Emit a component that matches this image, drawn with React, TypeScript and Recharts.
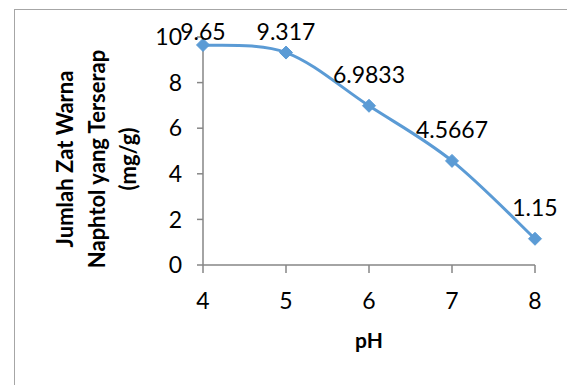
import { Customized, LabelList, Line, LineChart, XAxis, YAxis } from "recharts";

const phValues = [4, 5, 6, 7, 8];
const absorbed = [9.65, 9.317, 6.9833, 4.5667, 1.15];
const labelText = ["9.65", "9.317", "6.9833", "4.5667", "1.15"];
const yTicks = [0, 2, 4, 6, 8, 10];
const yTitle = ["Jumlah Zat Warna", "Naphtol yang Terserap", "(mg/g)"];
const xTitle = "pH";

const data = phValues.map((ph, i) => ({ ph, value: absorbed[i], label: labelText[i] }));

const FONT = "Lato, 'Open Sans', sans-serif";
const BLUE = "#5B9BD5";
const AXIS = "#868686";

// excel style smoothed line (catmull-rom like bezier)
function excelSmooth(context: any) {
  let pts: [number, number][] = [];
  return {
    areaStart() {},
    areaEnd() {},
    lineStart() {
      pts = [];
    },
    point(x: number, y: number) {
      pts.push([+x, +y]);
    },
    lineEnd() {
      if (!pts.length) return;
      context.moveTo(pts[0][0], pts[0][1]);
      for (let i = 0; i < pts.length - 1; i++) {
        const p0 = pts[Math.max(i - 1, 0)];
        const p1 = pts[i];
        const p2 = pts[i + 1];
        const p3 = pts[Math.min(i + 2, pts.length - 1)];
        context.bezierCurveTo(
          p1[0] + (p2[0] - p0[0]) / 6,
          p1[1] + (p2[1] - p0[1]) / 6,
          p2[0] - (p3[0] - p1[0]) / 6,
          p2[1] - (p3[1] - p1[1]) / 6,
          p2[0],
          p2[1]
        );
      }
    },
  };
}

function Diamond(props: any) {
  const { cx, cy } = props;
  if (cx == null || cy == null) return null;
  const r = 6.5;
  return (
    <polygon
      points={`${cx},${cy - r} ${cx + r},${cy} ${cx},${cy + r} ${cx - r},${cy}`}
      fill={BLUE}
      stroke={BLUE}
    />
  );
}

function PointLabel(props: any) {
  const { x, y, value } = props;
  // labels stay inside the plot, so the top ones get pushed down
  const cy = Math.max(y - 31, 31.5);
  return (
    <text x={x} y={cy + 8} textAnchor="middle" fontSize={23} fontFamily={FONT} fill="#000">
      {value}
    </text>
  );
}

function Titles() {
  const baselines = [73, 105, 136];
  return (
    <g>
      {yTitle.map((t, i) => (
        <text
          key={t}
          transform={`translate(${baselines[i]}, 159) rotate(-90)`}
          textAnchor="middle"
          fontSize={22}
          fontWeight="bold"
          fontFamily={FONT}
          fill="#000"
        >
          {t}
        </text>
      ))}
      <text x={369} y={348} textAnchor="middle" fontSize={21} fontWeight="bold" fontFamily={FONT} fill="#000">
        {xTitle}
      </text>
    </g>
  );
}

export default function App() {
  return (
    <div style={{ position: "absolute", left: 0, top: 0, width: 567, height: 385, overflow: "hidden", background: "#fff" }}>
      <div
        style={{
          position: "absolute",
          left: 14,
          top: 9,
          width: 600,
          height: 400,
          border: "1px solid #a6a6a6",
        }}
      />
      <LineChart
        width={567}
        height={385}
        data={data}
        margin={{ top: 37, right: 32, bottom: 60, left: 0 }}
        style={{ position: "absolute", left: 0, top: 0 }}
      >
        <XAxis
          dataKey="ph"
          type="number"
          domain={[4, 8]}
          ticks={phValues}
          height={60}
          stroke={AXIS}
          strokeWidth={1.5}
          tickSize={8}
          tickMargin={20}
          tick={{ fontSize: 23, fontFamily: FONT, fill: "#000" }}
        />
        <YAxis
          type="number"
          domain={[0, 10]}
          ticks={yTicks}
          width={203}
          stroke={AXIS}
          strokeWidth={1.5}
          tickSize={6}
          tickMargin={15}
          tick={{ fontSize: 23, fontFamily: FONT, fill: "#000" }}
        />
        <Line
          type={excelSmooth as any}
          dataKey="value"
          stroke={BLUE}
          strokeWidth={3}
          dot={<Diamond />}
          activeDot={false}
          isAnimationActive={false}
        >
          <LabelList dataKey="label" content={<PointLabel />} />
        </Line>
        <Customized component={Titles} />
      </LineChart>
    </div>
  );
}
